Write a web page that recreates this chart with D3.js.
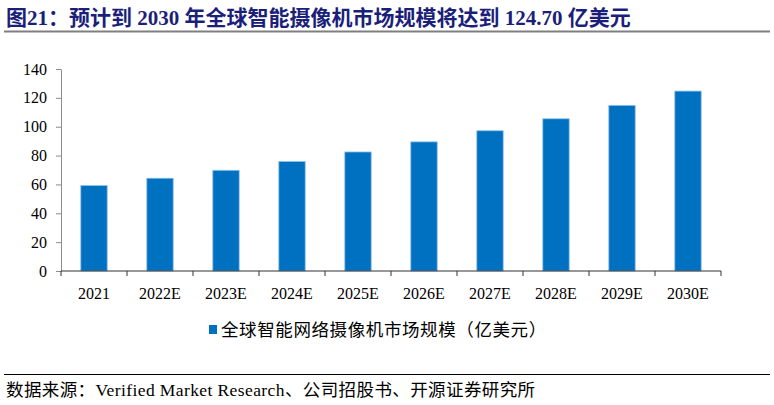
<!DOCTYPE html>
<html>
<head>
<meta charset="utf-8">
<script src="https://d3js.org/d3.v7.min.js"></script>
<style>
  body { margin: 0; background: #fff; }
  svg { display: block; }
</style>
</head>
<body>
<script>
// chart data
const years = ["2021", "2022E", "2023E", "2024E", "2025E", "2026E", "2027E", "2028E", "2029E", "2030E"];
const marketSize = [59.2, 64.3, 69.8, 75.9, 82.5, 89.5, 97.2, 105.5, 114.8, 124.7];
const yTicks = [0, 20, 40, 60, 80, 100, 120, 140];
const seriesName = "全球智能网络摄像机市场规模（亿美元）";
const titleText = "图21：预计到 2030 年全球智能摄像机市场规模将达到 124.70 亿美元";
const sourceText = "数据来源：Verified Market Research、公司招股书、开源证券研究所";

const W = 774, H = 405;
const margin = {top: 69, right: 53, bottom: 134, left: 61},
      width = W - margin.left - margin.right,
      height = H - margin.top - margin.bottom;

const serif = "'Liberation Serif', 'Times New Roman', 'Noto Sans CJK SC', serif";

const svg = d3.select("body").append("svg")
  .attr("width", W).attr("height", H);

// title + rule
svg.append("text")
  .attr("x", 6).attr("y", 25)
  .attr("font-family", serif)
  .attr("font-weight", "bold")
  .attr("font-size", 21)
  .attr("fill", "#1b1f7a")
  .text(titleText);
svg.append("line")
  .attr("x1", 4).attr("x2", 770).attr("y1", 31.5).attr("y2", 31.5)
  .attr("stroke", "#7f7f7f").attr("stroke-width", 2);

const g = svg.append("g")
  .attr("transform", "translate(" + margin.left + "," + margin.top + ")");

const x = d3.scaleBand().domain(years).range([0, width]).paddingInner(0.6).paddingOuter(0.3);
const y = d3.scaleLinear().domain([0, 140]).range([height, 0]);

// bars
g.selectAll(".bar")
  .data(marketSize)
  .enter().append("rect")
  .attr("x", (d, i) => x(years[i]))
  .attr("y", d => y(d))
  .attr("width", x.bandwidth())
  .attr("height", d => height - y(d))
  .attr("fill", "#0070c0")
  .attr("stroke", "#8fc3ea")
  .attr("stroke-width", 0.8);

// y axis
const yAxis = g.append("g")
  .call(d3.axisLeft(y).tickValues(yTicks).tickSize(5).tickSizeOuter(0).tickPadding(9));
yAxis.select(".domain").attr("stroke", "#8c8c8c");
yAxis.selectAll(".tick line").attr("stroke", "#8c8c8c");
yAxis.selectAll("text")
  .attr("font-family", serif).attr("font-size", 16).attr("fill", "#000");

// x axis with ticks at band edges
const step = x.step();
const xAxis = g.append("g").attr("transform", "translate(0," + height + ")");
xAxis.append("line")
  .attr("x1", 0).attr("x2", width).attr("stroke", "#333").attr("stroke-width", 1.2);
xAxis.selectAll(".xt")
  .data(d3.range(years.length + 1))
  .enter().append("line")
  .attr("x1", i => i * step).attr("x2", i => i * step)
  .attr("y1", 0).attr("y2", 5)
  .attr("stroke", "#333");
xAxis.selectAll(".xl")
  .data(years)
  .enter().append("text")
  .attr("x", d => x(d) + x.bandwidth() / 2)
  .attr("y", 28)
  .attr("text-anchor", "middle")
  .attr("font-family", serif).attr("font-size", 16).attr("fill", "#000")
  .text(d => d);

// legend
const lg = svg.append("g").attr("transform", "translate(209,330)");
lg.append("rect").attr("x", 0).attr("y", -5).attr("width", 8).attr("height", 9).attr("fill", "#0070c0");
lg.append("text")
  .attr("x", 12).attr("y", 6)
  .attr("font-family", "'Noto Sans CJK SC', sans-serif").attr("font-size", 17.5)
  .attr("letter-spacing", 0.6).attr("fill", "#000")
  .text(seriesName);

// source
svg.append("line")
  .attr("x1", 4).attr("x2", 770).attr("y1", 374.5).attr("y2", 374.5)
  .attr("stroke", "#000").attr("stroke-width", 1);
svg.append("text")
  .attr("x", 6).attr("y", 396)
  .attr("font-family", serif).attr("font-size", 17.5)
  .attr("letter-spacing", 0.4).attr("fill", "#000")
  .text(sourceText);
</script>
</body>
</html>
